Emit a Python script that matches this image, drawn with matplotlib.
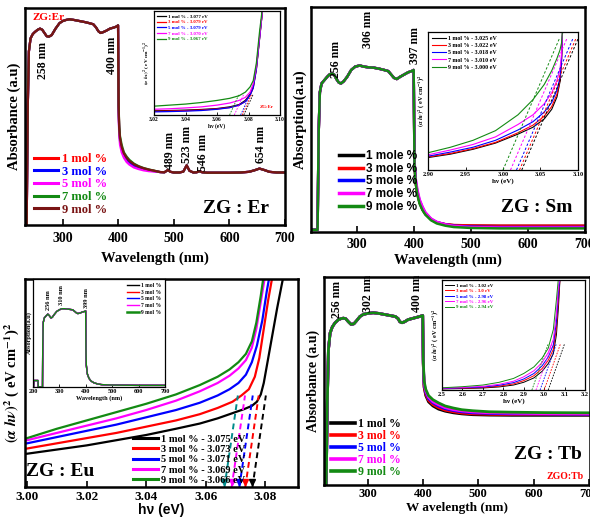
import matplotlib
matplotlib.use("Agg")
import matplotlib.pyplot as plt

plt.rcParams['font.family'] = ['Liberation Serif', 'DejaVu Serif']
plt.rcParams['font.weight'] = 'bold'
plt.rcParams['axes.labelweight'] = 'bold'
plt.rcParams['mathtext.fontset'] = 'stix'
plt.rcParams['xtick.direction'] = 'in'
plt.rcParams['ytick.direction'] = 'in'

# ---------------------------------------------------------------- data
MOL = ["1 mol %", "3 mol %", "5 mol %", "7 mol %", "9 mol %"]
MOLE = ["1 mole %", "3 mole %", "5 mole %", "7 mole %", "9 mole %"]

# ---- ZG:Er absorbance (a.u.)
ER_WL_HEAD = [232, 235, 237, 239, 242, 246, 250, 255, 259, 263, 267, 271, 275, 280, 287, 294, 300,
              306, 312, 320, 330, 340, 348, 355, 360, 364, 368, 372, 378, 385, 392, 397, 399.5]
ER_HEAD = [0.0, 0.0, 0.55, 0.80, 0.86, 0.88, 0.89, 0.90, 0.905, 0.90, 0.885, 0.87, 0.868, 0.875,
           0.905, 0.93, 0.94, 0.945, 0.948, 0.945, 0.94, 0.935, 0.93, 0.925, 0.91, 0.893, 0.885,
           0.888, 0.895, 0.905, 0.91, 0.915, 0.92]
ER_WL_EDGE = [400.5, 401.5, 403, 406, 410, 415, 420, 428, 436, 445, 455, 465]
ER_EDGE_1 = [0.55, 0.45, 0.40, 0.355, 0.325, 0.305, 0.29, 0.276, 0.267, 0.26, 0.254, 0.249]
ER_EDGE_3 = [0.54, 0.44, 0.39, 0.35, 0.32, 0.30, 0.287, 0.273, 0.264, 0.257, 0.252, 0.248]
ER_EDGE_5 = [0.52, 0.42, 0.37, 0.335, 0.31, 0.29, 0.278, 0.265, 0.258, 0.252, 0.248, 0.246]
ER_EDGE_7 = [0.56, 0.46, 0.41, 0.37, 0.335, 0.315, 0.30, 0.283, 0.272, 0.263, 0.256, 0.25]
ER_EDGE_9 = [0.55, 0.45, 0.40, 0.36, 0.33, 0.31, 0.295, 0.28, 0.27, 0.262, 0.255, 0.25]
ER_WL_TAIL = [475, 483, 489, 494, 500, 510, 517, 523, 528, 535, 541, 546, 551, 560, 580, 600,
              620, 635, 645, 654, 662, 672, 685, 700]
ER_TAIL = [0.244, 0.243, 0.253, 0.245, 0.242, 0.242, 0.246, 0.275, 0.25, 0.242, 0.243, 0.248,
           0.243, 0.241, 0.241, 0.241, 0.242, 0.245, 0.252, 0.26, 0.254, 0.245, 0.242, 0.242]
ER_PEAKS = ["258 nm", "400 nm", "489 nm", "523 nm", "546 nm", "654 nm"]
ER_PEAK_POS = [264, 388, 493, 523, 552, 657]

# ---- ZG:Er Tauc inset
ER_IN_E = [3.020, 3.030, 3.040, 3.050, 3.060, 3.068, 3.074, 3.078, 3.081, 3.083, 3.085, 3.087, 3.089]
ER_IN_1 = [0.04, 0.043, 0.047, 0.053, 0.062, 0.078, 0.10, 0.14, 0.20, 0.27, 0.45, 0.74, 1.02]
ER_IN_3 = [0.035, 0.038, 0.042, 0.048, 0.058, 0.072, 0.095, 0.13, 0.19, 0.26, 0.44, 0.73, 1.02]
ER_IN_5 = [0.03, 0.033, 0.037, 0.043, 0.055, 0.07, 0.095, 0.13, 0.19, 0.26, 0.44, 0.73, 1.02]
ER_IN_7 = [0.055, 0.06, 0.068, 0.078, 0.095, 0.115, 0.14, 0.17, 0.22, 0.30, 0.47, 0.75, 1.02]
ER_IN_9 = [0.085, 0.095, 0.105, 0.12, 0.14, 0.16, 0.185, 0.22, 0.27, 0.33, 0.50, 0.80, 1.05]
ER_IN_LABELS = ["1 mol % - 3.077 eV", "3 mol % - 3.079 eV", "5 mol % - 3.079 eV",
                "7 mol % - 3.070 eV", "9 mol % - 3.067 eV"]
ER_IN_X0 = [3.077, 3.076, 3.075, 3.071, 3.068]

# ---- ZG:Sm absorption
SM_WL_HEAD = [220, 231, 233, 235, 238, 243, 248, 252, 256, 260, 264, 268, 272, 277, 283, 290, 297,
              305, 312, 320, 330, 340, 348, 355, 360, 365, 370, 376, 383, 390, 396, 399.5]
SM_HEAD = [0.01, 0.01, 0.45, 0.62, 0.66, 0.675, 0.69, 0.70, 0.705, 0.70, 0.68, 0.665, 0.66, 0.67,
           0.69, 0.72, 0.735, 0.74, 0.735, 0.732, 0.73, 0.725, 0.72, 0.715, 0.70, 0.685, 0.68,
           0.69, 0.70, 0.71, 0.715, 0.72]
SM_WL_EDGE = [400.5, 401, 403, 406, 410, 415, 420, 430, 440, 455, 470, 500, 550, 600, 650, 700]
SM_EDGE_1 = [0.45, 0.30, 0.22, 0.17, 0.13, 0.10, 0.08, 0.055, 0.042, 0.034, 0.03, 0.028, 0.027, 0.027, 0.027, 0.027]
SM_EDGE_3 = [0.45, 0.30, 0.22, 0.17, 0.13, 0.10, 0.08, 0.056, 0.043, 0.035, 0.031, 0.029, 0.028, 0.028, 0.028, 0.028]
SM_EDGE_5 = [0.46, 0.31, 0.23, 0.18, 0.14, 0.11, 0.085, 0.058, 0.044, 0.034, 0.028, 0.024, 0.022, 0.022, 0.022, 0.022]
SM_EDGE_7 = [0.47, 0.32, 0.24, 0.19, 0.145, 0.113, 0.088, 0.06, 0.045, 0.034, 0.027, 0.022, 0.02, 0.02, 0.02, 0.02]
SM_EDGE_9 = [0.45, 0.30, 0.22, 0.165, 0.125, 0.097, 0.077, 0.052, 0.038, 0.028, 0.022, 0.018, 0.016, 0.016, 0.016, 0.016]
SM_PEAKS = ["256 nm", "306 nm", "397 nm"]
SM_PEAK_POS = [264, 319, 402]
SM_PEAK_Y = [0.765, 0.90, 0.83]

# ---- ZG:Sm Tauc inset
SM_IN_E = [2.90, 2.93, 2.96, 2.99, 3.02, 3.04, 3.055, 3.065, 3.072, 3.076, 3.078, 3.0795]
SM_IN_1 = [0.09, 0.115, 0.15, 0.195, 0.26, 0.31, 0.37, 0.44, 0.53, 0.64, 0.78, 1.02]
SM_IN_3 = [0.095, 0.12, 0.155, 0.20, 0.27, 0.325, 0.39, 0.46, 0.55, 0.65, 0.79, 1.02]
SM_IN_5 = [0.10, 0.13, 0.165, 0.215, 0.29, 0.35, 0.42, 0.49, 0.58, 0.67, 0.80, 1.02]
SM_IN_7 = [0.11, 0.145, 0.185, 0.24, 0.33, 0.40, 0.48, 0.56, 0.65, 0.73, 0.84, 1.02]
SM_IN_9 = [0.125, 0.165, 0.215, 0.285, 0.40, 0.51, 0.62, 0.72, 0.81, 0.87, 0.92, 1.02]
SM_IN_LABELS = ["1 mol % - 3.025 eV", "3 mol % - 3.022 eV", "5 mol % - 3.018 eV",
                "7 mol % - 3.010 eV", "9 mol % - 3.000 eV"]
SM_IN_X0 = [3.025, 3.022, 3.018, 3.010, 3.000]

# ---- ZG:Eu Tauc (main)
EU_E_1 = [3.000, 3.010, 3.020, 3.030, 3.040, 3.050, 3.058, 3.064, 3.069, 3.073, 3.0755, 3.0772,
          3.0785, 3.0795, 3.081, 3.0825, 3.084, 3.0855, 3.0862]
EU_Y_1 = [0.16, 0.18, 0.20, 0.225, 0.25, 0.28, 0.305, 0.33, 0.355, 0.375, 0.39, 0.41, 0.445,
          0.50, 0.62, 0.74, 0.86, 0.97, 1.02]
EU_E_3 = [3.000, 3.010, 3.020, 3.030, 3.040, 3.050, 3.058, 3.064, 3.069, 3.072, 3.0745, 3.0765,
          3.078, 3.0795, 3.081, 3.0825]
EU_Y_3 = [0.185, 0.21, 0.235, 0.26, 0.29, 0.32, 0.35, 0.38, 0.41, 0.44, 0.47, 0.53, 0.62, 0.76, 0.90, 1.02]
EU_E_5 = [3.000, 3.010, 3.020, 3.030, 3.040, 3.050, 3.058, 3.064, 3.068, 3.071, 3.0735, 3.0755,
          3.0772, 3.079, 3.0805, 3.0815]
EU_Y_5 = [0.21, 0.24, 0.27, 0.30, 0.335, 0.37, 0.405, 0.44, 0.47, 0.50, 0.54, 0.60, 0.68, 0.80, 0.94, 1.02]
EU_E_7 = [3.000, 3.010, 3.020, 3.030, 3.040, 3.050, 3.058, 3.064, 3.068, 3.071, 3.0735, 3.0755,
          3.077, 3.0785, 3.080]
EU_Y_7 = [0.225, 0.26, 0.295, 0.33, 0.37, 0.415, 0.46, 0.50, 0.535, 0.57, 0.61, 0.67, 0.76, 0.89, 1.02]
EU_E_9 = [3.000, 3.010, 3.020, 3.030, 3.040, 3.050, 3.058, 3.064, 3.068, 3.071, 3.0735, 3.0755,
          3.077, 3.0785, 3.0795]
EU_Y_9 = [0.235, 0.28, 0.32, 0.36, 0.40, 0.445, 0.49, 0.53, 0.565, 0.60, 0.64, 0.70, 0.79, 0.92, 1.02]
EU_LABELS = ["1 mol % - 3.075 eV", "3 mol % - 3.073 eV", "5 mol % - 3.071 eV",
             "7 mol % - 3.069 eV", "9 mol % - 3.066 eV"]
EU_X0 = [3.0757, 3.0733, 3.0713, 3.0687, 3.0663]

# ---- ZG:Eu absorption inset
EU_IN_WL = [200, 202, 203, 219, 220, 236, 237, 239, 243, 250, 256, 262, 268, 273, 280, 290, 300,
            310, 320, 335, 350, 358, 365, 370, 378, 388, 396, 399.5, 400.5, 402, 406, 412, 420,
            430, 445, 460, 500, 600, 700]
EU_IN_A = [0.0, 0.0, 0.06, 0.06, 0.0, 0.0, 0.4, 0.6, 0.64, 0.66, 0.675, 0.66, 0.64, 0.645, 0.67,
           0.70, 0.715, 0.725, 0.725, 0.72, 0.715, 0.70, 0.685, 0.68, 0.685, 0.695, 0.70, 0.705,
           0.35, 0.20, 0.12, 0.08, 0.055, 0.04, 0.028, 0.022, 0.018, 0.015, 0.015]
EU_IN_PEAKS = ["256 nm", "310 nm", "399 nm"]
EU_IN_PEAK_POS = [257, 307, 402]

# ---- ZG:Tb absorbance
TB_WL_HEAD = [222, 225, 227, 229, 232, 236, 241, 247, 252, 256, 260, 265, 270, 275, 280, 286, 292,
              300, 310, 320, 330, 340, 350, 355, 358, 362, 367, 373, 380, 387, 394, 399.5]
TB_HEAD = [0.0, 0.0, 0.4, 0.65, 0.73, 0.76, 0.78, 0.795, 0.80, 0.802, 0.80, 0.785, 0.772, 0.775,
           0.79, 0.81, 0.82, 0.825, 0.828, 0.825, 0.82, 0.815, 0.81, 0.80, 0.785, 0.78, 0.785,
           0.795, 0.80, 0.805, 0.81, 0.815]
TB_WL_EDGE = [400.5, 402, 405, 410, 418, 428, 440, 455, 470, 490, 520, 560, 620, 700]
TB_EDGE_1 = [0.58, 0.47, 0.43, 0.40, 0.38, 0.365, 0.355, 0.347, 0.342, 0.338, 0.336, 0.335, 0.335, 0.335]
TB_EDGE_3 = [0.58, 0.475, 0.437, 0.407, 0.387, 0.372, 0.36, 0.352, 0.346, 0.342, 0.34, 0.339, 0.339, 0.338]
TB_EDGE_5 = [0.59, 0.485, 0.445, 0.415, 0.395, 0.38, 0.367, 0.358, 0.352, 0.347, 0.344, 0.342, 0.341, 0.34]
TB_EDGE_7 = [0.59, 0.49, 0.452, 0.422, 0.40, 0.386, 0.372, 0.362, 0.356, 0.351, 0.347, 0.345, 0.343, 0.342]
TB_EDGE_9 = [0.60, 0.50, 0.46, 0.43, 0.41, 0.395, 0.38, 0.37, 0.362, 0.357, 0.352, 0.35, 0.348, 0.347]
TB_PEAKS = ["256 nm", "302 nm", "400 nm"]
TB_PEAK_POS = [244, 300, 389]

# ---- ZG:Tb Tauc inset
TB_IN_E = [2.50, 2.60, 2.70, 2.78, 2.85, 2.90, 2.95, 2.99, 3.02, 3.045, 3.06, 3.07, 3.078]
TB_IN_1 = [0.01, 0.013, 0.018, 0.028, 0.045, 0.07, 0.11, 0.17, 0.24, 0.33, 0.50, 0.75, 1.02]
TB_IN_3 = [0.012, 0.016, 0.022, 0.035, 0.055, 0.085, 0.13, 0.195, 0.27, 0.37, 0.56, 0.82, 1.02]
TB_IN_5 = [0.014, 0.019, 0.027, 0.043, 0.067, 0.10, 0.15, 0.22, 0.30, 0.41, 0.62, 0.88, 1.02]
TB_IN_7 = [0.016, 0.023, 0.033, 0.052, 0.08, 0.12, 0.175, 0.25, 0.34, 0.46, 0.70, 0.95, 1.02]
TB_IN_9 = [0.02, 0.03, 0.045, 0.07, 0.105, 0.15, 0.21, 0.29, 0.38, 0.55, 0.82, 1.02, 1.05]
TB_IN_LABELS = ["1 mol % - 3.02 eV", "3 mol % - 3.0 eV", "5 mol % - 2.98 eV",
                "7 mol % - 2.96 eV", "9 mol % - 2.94 eV"]
TB_IN_X0 = [3.02, 3.00, 2.98, 2.96, 2.94]

WL_TICKS = [300, 400, 500, 600, 700]

# ---------------------------------------------------------------- styles
BLACK, RED, BLUE, MAG, GREEN, MAROON, TEAL = ('#000000', '#ff0000', '#0000ff', '#ff00ff',
                                              '#138a13', '#7a1414', '#008b8b')
C5 = [BLACK, RED, BLUE, MAG, GREEN]
TAUC_LABEL = r'$(\alpha\ h\nu)^2$ ( eV cm$^{-1}$)$^2$'
BIG = 14

fig = plt.figure(figsize=(5.9, 5.18), dpi=100)
W, H = 590.0, 518.0


def rect(x0, y0, x1, y1):
    return [x0 / W, 1 - y1 / H, (x1 - x0) / W, (y1 - y0) / H]


def style_main(ax, lw=1.8):
    for s in ax.spines.values():
        s.set_linewidth(lw)
    ax.tick_params(axis='x', length=4, width=1.2, labelsize=10, pad=4, top=False)
    ax.set_yticks([])
    for t in ax.get_xticklabels():
        t.set_fontweight('bold')


def style_inset(ax, fs=4):
    for s in ax.spines.values():
        s.set_linewidth(0.9)
    ax.tick_params(axis='x', length=2, width=0.6, labelsize=fs, pad=1.5)
    ax.set_yticks([])


def concat(*parts):
    out = []
    for p in parts:
        out += list(p)
    return out


# ================================================================ ZG:Er
ax = fig.add_axes(rect(25, 8, 285, 225))
er_edges = [ER_EDGE_1, ER_EDGE_3, ER_EDGE_5, ER_EDGE_7, ER_EDGE_9]
er_cols = [RED, BLUE, MAG, GREEN, MAROON]
for lab, edge, c in zip(MOL, er_edges, er_cols):
    ax.plot(concat(ER_WL_HEAD, ER_WL_EDGE, ER_WL_TAIL), concat(ER_HEAD, edge, ER_TAIL),
            color=c, lw=1.6, label=lab)
ax.set_xlim(232, 700)
ax.set_ylim(0, 1)
ax.set_xticks(WL_TICKS)
style_main(ax)
ax.tick_params(axis='x', pad=5)
ax.set_xlabel('Wavelength (nm)', fontsize=10.5, labelpad=5)
ax.set_ylabel('Absorbance (a.u)', fontsize=10.5, labelpad=3)
ER_PEAK_Y = [0.76, 0.78, 0.345, 0.37, 0.336, 0.37]
for txt, x, y in zip(ER_PEAKS, ER_PEAK_POS, ER_PEAK_Y):
    ax.text(x, y, txt, rotation=90, ha='center', va='center', fontsize=8.5, fontweight='bold')
ax.text(0.027, 0.975, 'ZG:Er', color=RED, transform=ax.transAxes, ha='left', va='top',
        fontsize=8, fontweight='bold')
ax.text(0.81, 0.075, 'ZG : Er', transform=ax.transAxes, ha='center', va='center',
        fontsize=BIG, fontweight='bold')
ax.legend(loc='lower left', bbox_to_anchor=(0.0, 0.0), frameon=False,
          handlelength=1.9, handletextpad=0.3, labelspacing=0.05, borderaxespad=0.35,
          labelcolor='linecolor', prop={'weight': 'bold', 'size': 9})
for l in ax.get_legend().get_lines():
    l.set_linewidth(2.2)

# inset
ai = fig.add_axes(rect(154, 11, 280, 115))
er_in = [ER_IN_1, ER_IN_3, ER_IN_5, ER_IN_7, ER_IN_9]
for lab, ys, c in zip(ER_IN_LABELS, er_in, C5):
    ai.plot(ER_IN_E, ys, color=c, lw=0.9, label=lab)
for x0, c in zip(ER_IN_X0, C5):
    ai.plot([x0, x0 + 0.006], [0.0, 0.2], color=c, lw=0.6, ls=(0, (2, 1.5)))
ai.set_xlim(3.02, 3.10)
ai.set_ylim(0, 1)
ai.set_xticks([3.02, 3.04, 3.06, 3.08, 3.10])
ai.set_xticklabels(['3.02', '3.04', '3.06', '3.08', '3.10'])
style_inset(ai)
ai.set_xlabel('hν (eV)', fontsize=4, labelpad=0.5)
ai.set_ylabel(TAUC_LABEL, fontsize=3.8, labelpad=1)
ai.text(0.95, 0.06, 'ZG:Er', color=RED, transform=ai.transAxes, ha='right', va='bottom',
        fontsize=3.5, fontweight='bold')
ai.legend(loc='upper left', frameon=False, handlelength=1.8, handletextpad=0.3,
          labelspacing=0.25, borderaxespad=0.3, labelcolor='linecolor',
          prop={'weight': 'bold', 'size': 3.5})

# ================================================================ ZG:Sm
ax = fig.add_axes(rect(311, 7, 585, 232))
sm_edges = [SM_EDGE_1, SM_EDGE_3, SM_EDGE_5, SM_EDGE_7, SM_EDGE_9]
for lab, edge, c in zip(MOLE, sm_edges, C5):
    ax.plot(concat(SM_WL_HEAD, SM_WL_EDGE), concat(SM_HEAD, edge), color=c, lw=1.8, label=lab)
ax.set_xlim(219.5, 700)
ax.set_ylim(0, 1)
ax.set_xticks(WL_TICKS)
style_main(ax)
ax.set_xlabel('Wavelength (nm)', fontsize=10.5, labelpad=2)
ax.set_ylabel('Absorption(a.u)', fontsize=10.5, labelpad=3)
for txt, x, y in zip(SM_PEAKS, SM_PEAK_POS, SM_PEAK_Y):
    ax.text(x, y, txt, rotation=90, ha='center', va='center', fontsize=8.5, fontweight='bold')
ax.text(0.825, 0.107, 'ZG : Sm', transform=ax.transAxes, ha='center', va='center',
        fontsize=BIG, fontweight='bold')
leg = ax.legend(loc='lower left', bbox_to_anchor=(0.085, 0.065), frameon=False,
                handlelength=2.0, handletextpad=0.3, labelspacing=0.05, borderaxespad=0.0,
                prop={'family': 'Liberation Sans', 'weight': 'bold', 'size': 8.5})
for l in leg.get_lines():
    l.set_linewidth(2.5)

ai = fig.add_axes(rect(428, 32, 578, 170))
sm_in = [SM_IN_1, SM_IN_3, SM_IN_5, SM_IN_7, SM_IN_9]
for lab, ys, c in zip(SM_IN_LABELS, sm_in, C5):
    ai.plot(SM_IN_E, ys, color=c, lw=0.8, label=lab)
for x0, c in zip(SM_IN_X0, C5):
    ai.plot([x0, x0 + 0.075], [0.0, 0.95], color=c, lw=0.7, ls=(0, (2.5, 2)))
ai.set_xlim(2.90, 3.10)
ai.set_ylim(0, 1)
ai.set_xticks([2.90, 2.95, 3.00, 3.05, 3.10])
ai.set_xticklabels(['2.90', '2.95', '3.00', '3.05', '3.10'])
style_inset(ai, fs=4.5)
ai.set_xlabel('hν (eV)', fontsize=5, labelpad=0.5)
ai.set_ylabel(TAUC_LABEL, fontsize=4.5, labelpad=1)
ai.legend(loc='upper left', frameon=False, handlelength=2.4, handletextpad=0.4,
          labelspacing=0.35, borderaxespad=0.2, prop={'weight': 'bold', 'size': 4.3})

# ================================================================ ZG:Eu
ax = fig.add_axes(rect(25, 279, 298, 487))
eu_e = [EU_E_1, EU_E_3, EU_E_5, EU_E_7, EU_E_9]
eu_y = [EU_Y_1, EU_Y_3, EU_Y_5, EU_Y_7, EU_Y_9]
for lab, xs, ys, c in zip(EU_LABELS, eu_e, eu_y, C5):
    ax.plot(xs, ys, color=c, lw=1.6, label=lab)
eu_dash = [BLACK, RED, BLUE, MAG, TEAL]
for x0, c in zip(EU_X0, eu_dash):
    ax.plot([x0, x0 + 0.0045], [0.0, 0.44], color=c, lw=1.4, ls=(0, (3, 2)))
    ax.plot([x0], [0.025], marker='v', color=c, ms=4, clip_on=False)
ax.set_xlim(2.9993, 3.091)
ax.set_ylim(0, 1)
ax.set_xticks([3.00, 3.02, 3.04, 3.06, 3.08])
ax.set_xticklabels(['3.00', '3.02', '3.04', '3.06', '3.08'])
style_main(ax)
ax.tick_params(axis='x', labelsize=9.5, pad=3)
ax.set_xlabel('hν (eV)', fontsize=10, labelpad=0, family='Liberation Sans')
ax.set_ylabel(TAUC_LABEL, fontsize=10.5, labelpad=3)
ax.text(0.128, 0.075, 'ZG : Eu', transform=ax.transAxes, ha='center', va='center',
        fontsize=BIG, fontweight='bold')
leg = ax.legend(loc='lower left', bbox_to_anchor=(0.38, -0.01), frameon=False,
                handlelength=2.4, handletextpad=0.3, labelspacing=0.1, borderaxespad=0.0,
                prop={'weight': 'bold', 'size': 7.5})
for l in leg.get_lines():
    l.set_linewidth(2.2)

ai = fig.add_axes(rect(33, 279, 165, 387))
for lab, c in zip(MOL, C5):
    ai.plot(EU_IN_WL, EU_IN_A, color=c, lw=1.0, label=lab)
ai.set_xlim(200, 700)
ai.set_ylim(0, 1)
ai.set_xticks([200, 300, 400, 500, 600, 700])
style_inset(ai, fs=4.5)
ai.set_xlabel('Wavelength (nm)', fontsize=4.5, labelpad=0.5)
ai.set_ylabel('Absorption(a.u)', fontsize=4.5, labelpad=0.5)
EU_IN_PEAK_Y = [0.80, 0.85, 0.82]
for txt, x, y in zip(EU_IN_PEAKS, EU_IN_PEAK_POS, EU_IN_PEAK_Y):
    ai.text(x, y, txt, rotation=90, ha='center', va='center', fontsize=4.5, fontweight='bold')
leg = ai.legend(loc='upper right', frameon=False, handlelength=2.2, handletextpad=0.4,
                labelspacing=0.3, borderaxespad=0.3, prop={'weight': 'bold', 'size': 4})
leg.get_lines()[-1].set_linewidth(1.8)

# ================================================================ ZG:Tb
ax = fig.add_axes(rect(324, 277, 590, 485))
tb_edges = [TB_EDGE_1, TB_EDGE_3, TB_EDGE_5, TB_EDGE_7, TB_EDGE_9]
for lab, edge, c in zip(MOL, tb_edges, C5):
    ax.plot(concat(TB_WL_HEAD, TB_WL_EDGE), concat(TB_HEAD, edge), color=c, lw=2.0, label=lab)
ax.set_xlim(221, 702)
ax.set_ylim(0, 1)
ax.set_xticks(WL_TICKS)
style_main(ax)
ax.tick_params(axis='x', labelsize=9, pad=2.5)
ax.set_xlabel('W avelength (nm)', fontsize=9.5, labelpad=1)
ax.set_ylabel('Absorbance (a.u)', fontsize=10, labelpad=3)
TB_PEAK_Y = [0.89, 0.92, 0.92]
for txt, x, y in zip(TB_PEAKS, TB_PEAK_POS, TB_PEAK_Y):
    ax.text(x, y, txt, rotation=90, ha='center', va='center', fontsize=8.5, fontweight='bold')
ax.text(0.84, 0.145, 'ZG : Tb', transform=ax.transAxes, ha='center', va='center',
        fontsize=BIG, fontweight='bold')
ax.text(0.905, 0.04, 'ZGO:Tb', color=RED, transform=ax.transAxes, ha='center', va='center',
        fontsize=7, fontweight='bold')
leg = ax.legend(loc='lower left', bbox_to_anchor=(0.0, 0.0), frameon=False,
                handlelength=2.0, handletextpad=0.3, labelspacing=0.0, borderaxespad=0.2,
                labelcolor='linecolor', prop={'weight': 'bold', 'size': 8.5})
for l in leg.get_lines():
    l.set_linewidth(2.6)

ai = fig.add_axes(rect(442, 280, 585, 390))
tb_in = [TB_IN_1, TB_IN_3, TB_IN_5, TB_IN_7, TB_IN_9]
for lab, ys, c in zip(TB_IN_LABELS, tb_in, C5):
    ai.plot(TB_IN_E, ys, color=c, lw=0.7, label=lab)
for x0, c in zip(TB_IN_X0, C5):
    ai.plot([x0, x0 + 0.08], [0.0, 0.42], color=c, lw=0.6, ls=(0, (2, 1.5)))
ai.set_xlim(2.5, 3.2)
ai.set_ylim(0, 1)
ai.set_xticks([2.5, 2.6, 2.7, 2.8, 2.9, 3.0, 3.1, 3.2])
ai.set_xticklabels(['2.5', '2.6', '2.7', '2.8', '2.9', '3.0', '3.1', '3.2'])
style_inset(ai, fs=4.5)
ai.set_xlabel('hν (eV)', fontsize=5, labelpad=0.5)
ai.set_ylabel(TAUC_LABEL, fontsize=4.5, labelpad=1)
ai.legend(loc='upper left', frameon=False, handlelength=1.8, handletextpad=0.3,
          labelspacing=0.2, borderaxespad=0.3, labelcolor='linecolor',
          prop={'weight': 'bold', 'size': 3.5})

fig.savefig('out.png', dpi=100)
